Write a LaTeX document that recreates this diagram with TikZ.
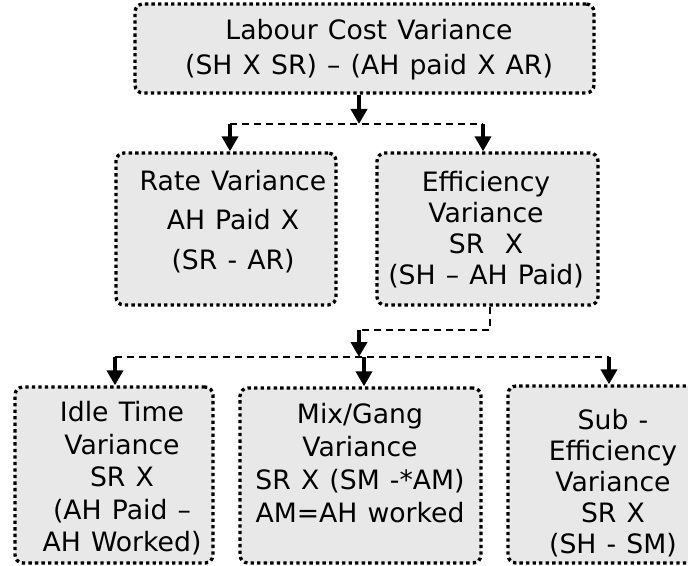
\documentclass[tikz,border=0pt]{standalone}
\usepackage{fontspec}
\setmainfont{DejaVu Sans}[WordSpace=1.2]
\usetikzlibrary{arrows.meta}
\definecolor{boxfill}{HTML}{E8E8E8}
\begin{document}
\begin{tikzpicture}[x=0.75pt,y=-0.75pt,
  vbox/.style={draw=black, fill=boxfill, line width=2.5pt, dash pattern=on 2.5pt off 2.4pt, rounded corners=6pt, inner sep=0pt},
  vtxt/.style={align=center, inner sep=0pt, font=\fontsize{20}{#1}\selectfont},
  dsh/.style={line width=2pt, dash pattern=on 5.25pt off 3.75pt},
  arr/.style={line width=3.6pt, -{Triangle[width=12pt,length=11.25pt]}}]
\useasboundingbox (0,0) rectangle (688,566);
\fill[white] (0,0) rectangle (688,566);
\clip (0,0) rectangle (688,566);

% boxes
\node[vbox, minimum width=344.25pt, minimum height=66.75pt] (top) at (364.5,48.5) {};
\node[vbox, minimum width=165pt, minimum height=114pt] (rate) at (226,229) {};
\node[vbox, minimum width=165.75pt, minimum height=114pt] (eff) at (487.5,229) {};
\node[vbox, minimum width=148.5pt, minimum height=132pt] (idle) at (114,475) {};
\node[vbox, minimum width=180.75pt, minimum height=131.25pt] (mix) at (360.5,475.5) {};
\node[vbox, minimum width=159pt, minimum height=132.75pt] (sub) at (614,474.5) {};

% texts
\node[vtxt=26.25pt] (topt) at (369,50) {Labour Cost Variance\\(SH X SR) – (AH paid X AR)};
\node[vtxt=29.5pt] (ratet) at (233,221.5) {Rate Variance\\AH Paid X\\(SR - AR)};
\node[vtxt=23.25pt] (efft) at (486,229.5) {Efficiency\\Variance\\SR~~X\\(SH – AH Paid)};
\node[vtxt=24.4pt] (idlet) at (122,478.5) {Idle Time\\Variance\\SR X\\(AH Paid –\\AH Worked)};
\node[vtxt=24.75pt] (mixt) at (360,463) {Mix/Gang\\Variance\\SR X (SM -*AM)\\AM=AH worked};
\node[vtxt=23.25pt] (subt) at (613,483) {Sub -\\Efficiency\\Variance\\SR X\\(SH - SM)};

% junction points
\coordinate (hub1) at (359,124);
\coordinate (l1) at (230,124);
\coordinate (r1) at (483,124);
\coordinate (e1) at (490,330);
\coordinate (e2) at (359,330);
\coordinate (hub2) at (359,357);
\coordinate (l2) at (115,357);
\coordinate (m2) at (364,357);
\coordinate (r2) at (609,357);

% connectors
\draw[arr] (top.south -| hub1) -- (hub1);
\draw[dsh] (l1) -- (r1);
\draw[arr] (l1) -- (l1 |- rate.north);
\draw[arr] (r1) -- (r1 |- eff.north);

\draw[dsh] (eff.south -| e1) -- (e1) -- (e2);
\draw[arr] (e2) -- (hub2);
\draw[dsh] (l2) -- (r2);
\draw[arr] (l2) -- (l2 |- idle.north);
\draw[arr] (m2) -- (m2 |- mix.north);
\draw[arr] (r2) -- (r2 |- sub.north);
\end{tikzpicture}
\end{document}
